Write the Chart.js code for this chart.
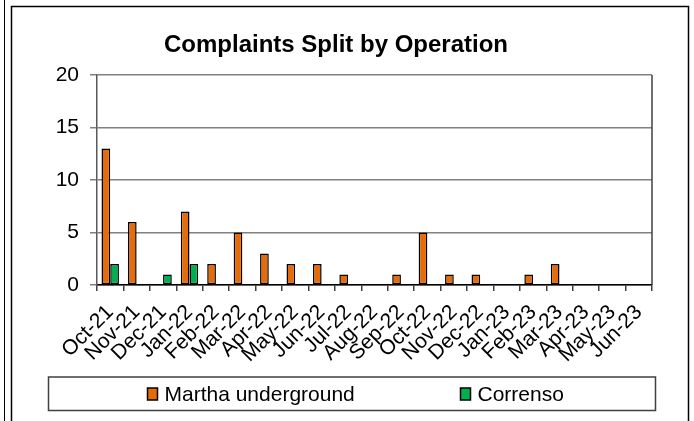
<!DOCTYPE html>
<html>
<head>
<meta charset="utf-8">
<script src="https://cdn.jsdelivr.net/npm/chart.js@4.4.1/dist/chart.umd.min.js"></script>
<style>
html,body{margin:0;padding:0;background:#fff;}
#wrap{width:694px;height:421px;}
</style>
</head>
<body>
<div id="wrap"><canvas id="c" width="694" height="421"></canvas></div>
<script>
const chartTitle = 'Complaints Split by Operation';
const months = ['Oct-21','Nov-21','Dec-21','Jan-22','Feb-22','Mar-22','Apr-22','May-22','Jun-22','Jul-22','Aug-22','Sep-22','Oct-22','Nov-22','Dec-22','Jan-23','Feb-23','Mar-23','Apr-23','May-23','Jun-23'];
const marthaUnderground = [13,6,0,7,2,5,3,2,2,1,0,1,5,1,1,0,1,2,0,0,0];
const correnso = [2,0,1,2,0,0,0,0,0,0,0,0,0,0,0,0,0,0,0,0,0];
const seriesNames = ['Martha underground','Correnso'];
const seriesColors = ['#E46C0A','#00B050'];
const yTicks = [0,5,10,15,20];

const FONT = "'Liberation Sans', Arial, sans-serif";

const decorPlugin = {
  id: 'decor',
  beforeDraw(chart) {
    const ctx = chart.ctx;
    ctx.save();
    ctx.fillStyle = '#fff';
    ctx.fillRect(0, 0, chart.width, chart.height);
    ctx.strokeStyle = '#000';
    ctx.lineWidth = 1;
    ctx.beginPath();
    ctx.moveTo(4.5, 0); ctx.lineTo(4.5, chart.height);
    ctx.stroke();
    ctx.lineWidth = 1.5;
    ctx.strokeRect(11.5, 6.5, chart.width - 17, chart.height + 10);
    ctx.restore();
  },
  afterDraw(chart) {
    const ctx = chart.ctx;
    const a = chart.chartArea;
    ctx.save();
    ctx.strokeStyle = '#404040';
    ctx.lineWidth = 1.5;
    ctx.beginPath();
    ctx.moveTo(a.right, a.top); ctx.lineTo(a.right, a.bottom);
    ctx.stroke();
    const bx = 48.5, by = chart.height - 44, bw = 607, bh = 33.5;
    ctx.strokeStyle = '#404040';
    ctx.lineWidth = 1.5;
    ctx.strokeRect(bx, by, bw, bh);
    const itemX = [bx + 99, bx + 412];
    ctx.font = '21px ' + FONT;
    ctx.textBaseline = 'middle';
    ctx.textAlign = 'left';
    chart.data.datasets.forEach((ds, i) => {
      const mx = itemX[i], my = by + 11;
      ctx.fillStyle = ds.backgroundColor;
      ctx.fillRect(mx, my, 10, 12);
      ctx.strokeStyle = '#000';
      ctx.lineWidth = 1.5;
      ctx.strokeRect(mx, my, 10, 12);
      ctx.fillStyle = '#000';
      ctx.fillText(ds.label, mx + 17, by + bh / 2 + 1);
    });
    ctx.restore();
  }
};

new Chart(document.getElementById('c'), {
  type: 'bar',
  data: {
    labels: months,
    datasets: [
      { label: seriesNames[0], data: marthaUnderground, backgroundColor: seriesColors[0], borderColor: '#000', borderWidth: 1.5, borderSkipped: false },
      { label: seriesNames[1], data: correnso, backgroundColor: seriesColors[1], borderColor: '#000', borderWidth: 1.5, borderSkipped: false }
    ]
  },
  options: {
    responsive: false,
    animation: false,
    devicePixelRatio: 1,
    layout: { padding: { left: 20, right: 42, top: 11, bottom: 56 } },
    datasets: { bar: { categoryPercentage: 0.66, barPercentage: 1.0 } },
    plugins: {
      legend: { display: false },
      tooltip: { enabled: false },
      title: {
        display: true,
        text: chartTitle,
        color: '#000',
        font: { family: FONT, size: 24, weight: 'bold' },
        padding: { top: 19.5, bottom: 15.7 }
      }
    },
    scales: {
      x: {
        grid: { display: true, offset: true, drawOnChartArea: false, tickLength: 6, color: '#404040', lineWidth: 1.5 },
        border: { display: true, color: '#000', width: 1.5 },
        ticks: { autoSkip: false, minRotation: 45, maxRotation: 45, padding: 9, color: '#000', font: { family: FONT, size: 21 } },
        afterFit(s) { s.height = 80; }
      },
      y: {
        min: 0, max: 20,
        afterBuildTicks(s) { s.ticks = yTicks.map(v => ({ value: v })); },
        grid: { color: '#808080', lineWidth: 1.5, tickLength: 7 },
        border: { display: true, color: '#595959', width: 1.5 },
        ticks: { padding: 11, color: '#000', font: { family: FONT, size: 21 } },
        afterFit(s) { s.width = 77; }
      }
    }
  },
  plugins: [decorPlugin]
});
</script>
</body>
</html>
